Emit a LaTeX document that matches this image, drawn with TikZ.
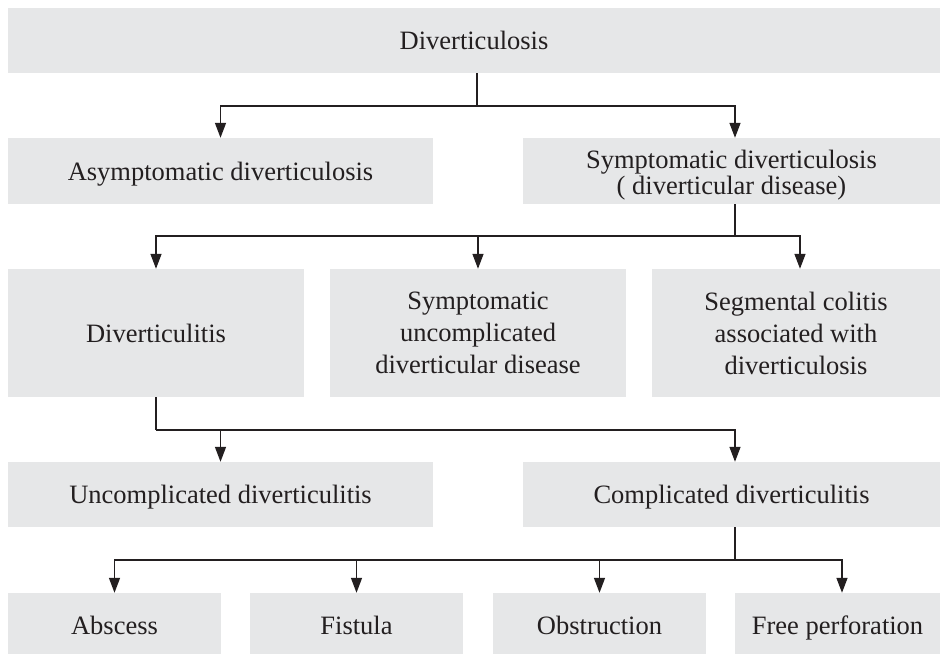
\documentclass[tikz,border=0pt]{standalone}
\usepackage{fontspec}
\setmainfont{Liberation Serif}
\usetikzlibrary{arrows.meta}
\definecolor{boxgray}{HTML}{E6E7E8}
\definecolor{ink}{HTML}{231F20}
\begin{document}
\begin{tikzpicture}[x=1pt,y=-1pt,
  box/.style={fill=boxgray, draw=none, inner sep=0pt, align=center, text=ink,
    font=\fontsize{26.5}{32}\selectfont},
  oneline/.style={box, text height=21pt, text depth=3pt},
  lowline/.style={box, text height=23pt, text depth=1pt},
  lbl/.style={inner sep=0pt, align=center, text=ink,
    font=\fontsize{26.5}{26.5}\selectfont},
  conn/.style={draw=ink, line width=1.4pt},
  arr/.style={conn, -{Triangle[length=15pt,width=11pt]}}]
\useasboundingbox (0,0) rectangle (940,654);
\fill[white] (0,0) rectangle (940,654);
% row 1
\node[oneline, minimum width=932pt, minimum height=65pt] (A) at (474,40.5) {Diverticulosis};
% row 2
\node[oneline, minimum width=425pt, minimum height=66pt] (B1) at (220.5,171) {Asymptomatic diverticulosis};
\node[box, minimum width=417pt, minimum height=66pt] (B2) at (731.5,171) {};
\node[lbl] (B2t) at ([yshift=-4pt]B2.center) {Symptomatic diverticulosis\\( diverticular disease)};
% row 3
\node[oneline, minimum width=296pt, minimum height=128pt] (C1) at (156,333) {Diverticulitis};
\node[box, minimum width=296pt, minimum height=128pt] (C2) at (478,333) {Symptomatic\\uncomplicated\\diverticular disease};
\node[box, minimum width=288pt, minimum height=128pt] (C3) at (796,333) {Segmental colitis\\associated with\\diverticulosis};
% row 4
\node[oneline, minimum width=425pt, minimum height=65pt] (D1) at (220.5,494.5) {Uncomplicated diverticulitis};
\node[oneline, minimum width=417pt, minimum height=65pt] (D2) at (731.5,494.5) {Complicated diverticulitis};
% row 5
\node[lowline, minimum width=213pt, minimum height=61pt] (E1) at (114.5,623.5) {Abscess};
\node[lowline, minimum width=213pt, minimum height=61pt] (E2) at (356.5,623.5) {Fistula};
\node[lowline, minimum width=213pt, minimum height=61pt] (E3) at (599.5,623.5) {Obstruction};
\node[lowline, minimum width=205pt, minimum height=61pt] (E4) at (837.5,623.5) {Free perforation};
% junctions
\coordinate (j1) at (477,106);
\coordinate (j2) at (735,236);
\coordinate (j3) at (156,430);
\coordinate (j4) at (735,560);
% connectors
\draw[conn] (A.south -| j1) -- (j1);
\draw[arr] (j1) -| (B1.north);
\draw[arr] (j1) -| ([xshift=3.5pt]B2.north);
\draw[conn] (B2.south -| j2) -- (j2);
\draw[arr] (j2) -| (C1.north);
\draw[arr] (j2) -| (C2.north);
\draw[arr] (j2) -| ([xshift=4pt]C3.north);
\draw[conn] (C1.south) -- (j3);
\draw[arr] (j3) -| (D1.north);
\draw[arr] (j3) -| ([xshift=3.5pt]D2.north);
\draw[conn] (D2.south -| j4) -- (j4);
\draw[arr] (j4) -| (E1.north);
\draw[arr] (j4) -| (E2.north);
\draw[arr] (j4) -| (E3.north);
\draw[arr] (j4) -| ([xshift=4.5pt]E4.north);
\end{tikzpicture}
\end{document}
